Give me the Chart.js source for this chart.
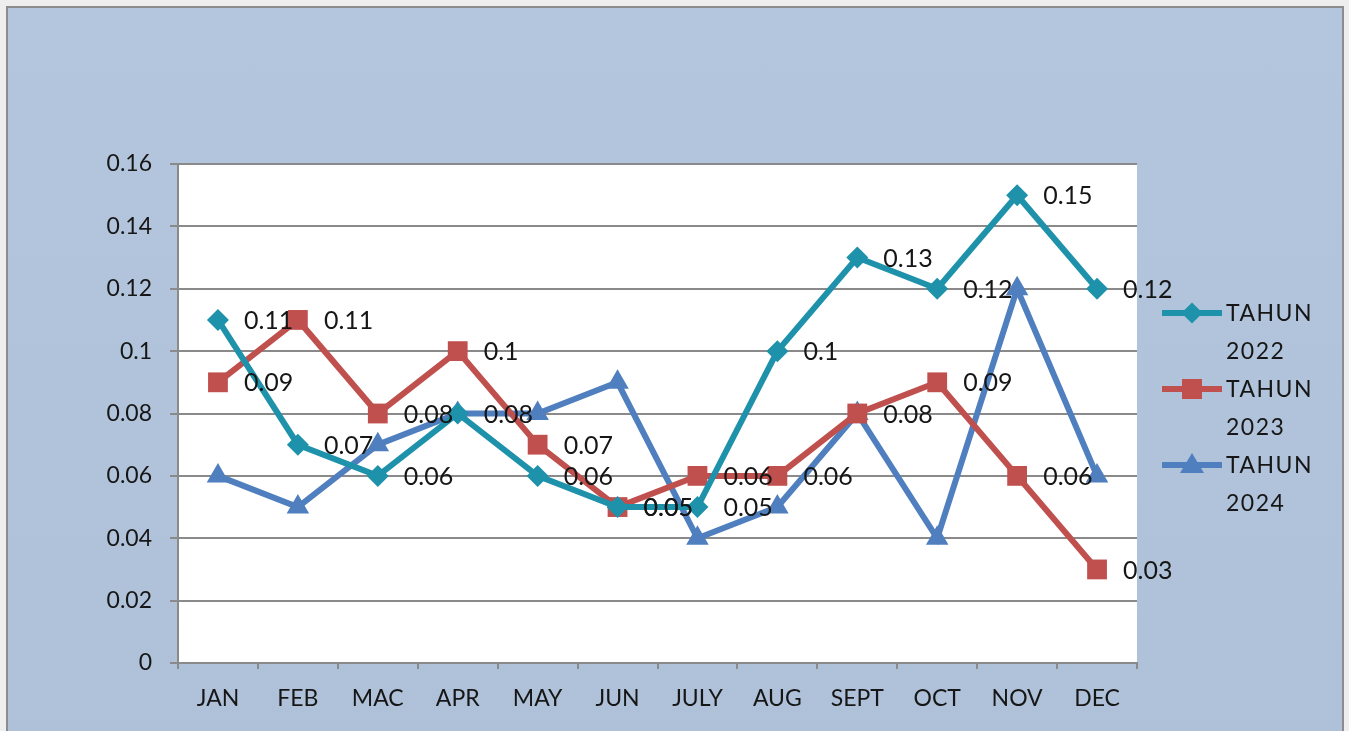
<!DOCTYPE html>
<html>
<head>
<meta charset="utf-8">
<script src="https://cdn.jsdelivr.net/npm/chart.js@4/dist/chart.umd.min.js"></script>
<style>
  html, body { margin: 0; padding: 0; }
  body {
    width: 1349px;
    height: 731px;
    overflow: hidden;
    background: #eeeeee;
    font-family: Lato, 'Open Sans', sans-serif;
  }
  #frame {
    position: absolute;
    left: 6px;
    top: 6px;
    width: 1334px;
    height: 740px;
    border: 2px solid #8c8c8c;
    background: linear-gradient(180deg, #b4c6dd 0%, #aec1d9 100%);
  }
  #chartWrap {
    position: absolute;
    left: 0;
    top: 0;
    width: 1349px;
    height: 731px;
  }
  #legend {
    position: absolute;
    left: 1162px;
    top: 293px;
    color: #161616;
    font-size: 23px;
    letter-spacing: 1.5px;
  }
  .item {
    position: relative;
    height: 76px;
    padding-left: 64px;
    line-height: 38px;
  }
  .swatch {
    position: absolute;
    left: 0;
    top: 17px;
    width: 60px;
    height: 6px;
  }
  .mark {
    position: absolute;
    left: 50%;
    top: 50%;
  }
</style>
</head>
<body>
<div id="frame"></div>
<div id="chartWrap"><canvas id="lineChart" width="1349" height="731"></canvas></div>
<div id="legend"></div>
<script>
const months = ['JAN', 'FEB', 'MAC', 'APR', 'MAY', 'JUN', 'JULY', 'AUG', 'SEPT', 'OCT', 'NOV', 'DEC'];
const tahun2022 = [0.11, 0.07, 0.06, 0.08, 0.06, 0.05, 0.05, 0.10, 0.13, 0.12, 0.15, 0.12];
const tahun2023 = [0.09, 0.11, 0.08, 0.10, 0.07, 0.05, 0.06, 0.06, 0.08, 0.09, 0.06, 0.03];
const tahun2024 = [0.06, 0.05, 0.07, 0.08, 0.08, 0.09, 0.04, 0.05, 0.08, 0.04, 0.12, 0.06];
const seriesNames = ['TAHUN 2022', 'TAHUN 2023', 'TAHUN 2024'];
const yTicks = [0, 0.02, 0.04, 0.06, 0.08, 0.1, 0.12, 0.14, 0.16];

const colors = {
  teal: '#1f92ab',
  red: '#c0504d',
  blue: '#4f7fbe',
  grid: '#8a8a8a',
  text: '#161616'
};

const fontFamily = 'Lato, "Open Sans", sans-serif';
const fmt = (v) => String(Number(v.toFixed(2)));

// white plot area behind the grid
const plotBackground = {
  id: 'plotBackground',
  beforeDraw(chart) {
    const { ctx, chartArea } = chart;
    ctx.save();
    ctx.fillStyle = '#ffffff';
    ctx.fillRect(chartArea.left, chartArea.top, chartArea.right - chartArea.left, chartArea.bottom - chartArea.top);
    ctx.restore();
  }
};

// value labels to the right of each point (only the first two series carry them)
const valueLabelPlugin = {
  id: 'valueLabels',
  afterDatasetsDraw(chart) {
    const { ctx } = chart;
    ctx.save();
    ctx.font = `25px ${fontFamily}`;
    ctx.fillStyle = colors.text;
    ctx.textAlign = 'left';
    ctx.textBaseline = 'middle';
    chart.data.datasets.forEach((ds, i) => {
      if (!ds.showValues) return;
      chart.getDatasetMeta(i).data.forEach((pt, j) => {
        ctx.fillText(fmt(ds.data[j]), pt.x + 26, pt.y + 1);
      });
    });
    ctx.restore();
  }
};

const buildDataset = (label, data, color, pointStyle, radius, showValues) => ({
  label,
  data,
  borderColor: color,
  backgroundColor: color,
  borderWidth: 6,
  pointStyle,
  pointRadius: radius,
  pointBorderWidth: 0,
  pointBackgroundColor: color,
  tension: 0,
  showValues
});

const chart = new Chart(document.getElementById('lineChart'), {
  type: 'line',
  plugins: [plotBackground, valueLabelPlugin],
  data: {
    labels: months,
    datasets: [
      buildDataset(seriesNames[0], tahun2022, colors.teal, 'rectRot', 11, true),
      buildDataset(seriesNames[1], tahun2023, colors.red, 'rect', 14, true),
      buildDataset(seriesNames[2], tahun2024, colors.blue, 'triangle', 13, false)
    ]
  },
  options: {
    responsive: false,
    animation: false,
    layout: {
      padding: { top: 164, right: 212, bottom: 0, left: 0 }
    },
    plugins: {
      legend: { display: false },
      tooltip: { enabled: false }
    },
    scales: {
      x: {
        offset: true,
        afterFit(scale) { scale.height = 68; },
        grid: {
          offset: true,
          drawOnChartArea: false,
          drawTicks: true,
          tickLength: 6,
          color: colors.grid,
          lineWidth: 2
        },
        border: { display: true, color: colors.grid, width: 2 },
        ticks: {
          color: colors.text,
          padding: 16,
          font: { family: fontFamily, size: 23 }
        }
      },
      y: {
        min: 0,
        max: 0.16,
        afterFit(scale) { scale.width = 178; },
        afterBuildTicks(scale) { scale.ticks = yTicks.map((value) => ({ value })); },
        grid: {
          color: colors.grid,
          lineWidth: 2,
          tickLength: 8
        },
        border: { display: true, color: colors.grid, width: 2 },
        ticks: {
          color: colors.text,
          padding: 18,
          font: { family: fontFamily, size: 23 },
          callback: (v) => fmt(v)
        }
      }
    }
  }
});

// two-line legend on the right, as in the original
const legendEl = document.getElementById('legend');
const markerCss = [
  `width:15px;height:15px;background:${colors.teal};transform:translate(-50%,-50%) rotate(45deg);`,
  `width:20px;height:20px;background:${colors.red};transform:translate(-50%,-50%);`,
  `width:0;height:0;border-left:12px solid transparent;border-right:12px solid transparent;border-bottom:20px solid ${colors.blue};transform:translate(-50%,-60%);`
];
const swatchColors = [colors.teal, colors.red, colors.blue];
seriesNames.forEach((name, i) => {
  const [word, year] = name.split(' ');
  const item = document.createElement('div');
  item.className = 'item';
  item.innerHTML =
    `<div class="swatch" style="background:${swatchColors[i]}"><div class="mark" style="${markerCss[i]}"></div></div>` +
    `${word}<br>${year}`;
  legendEl.appendChild(item);
});
</script>
</body>
</html>
